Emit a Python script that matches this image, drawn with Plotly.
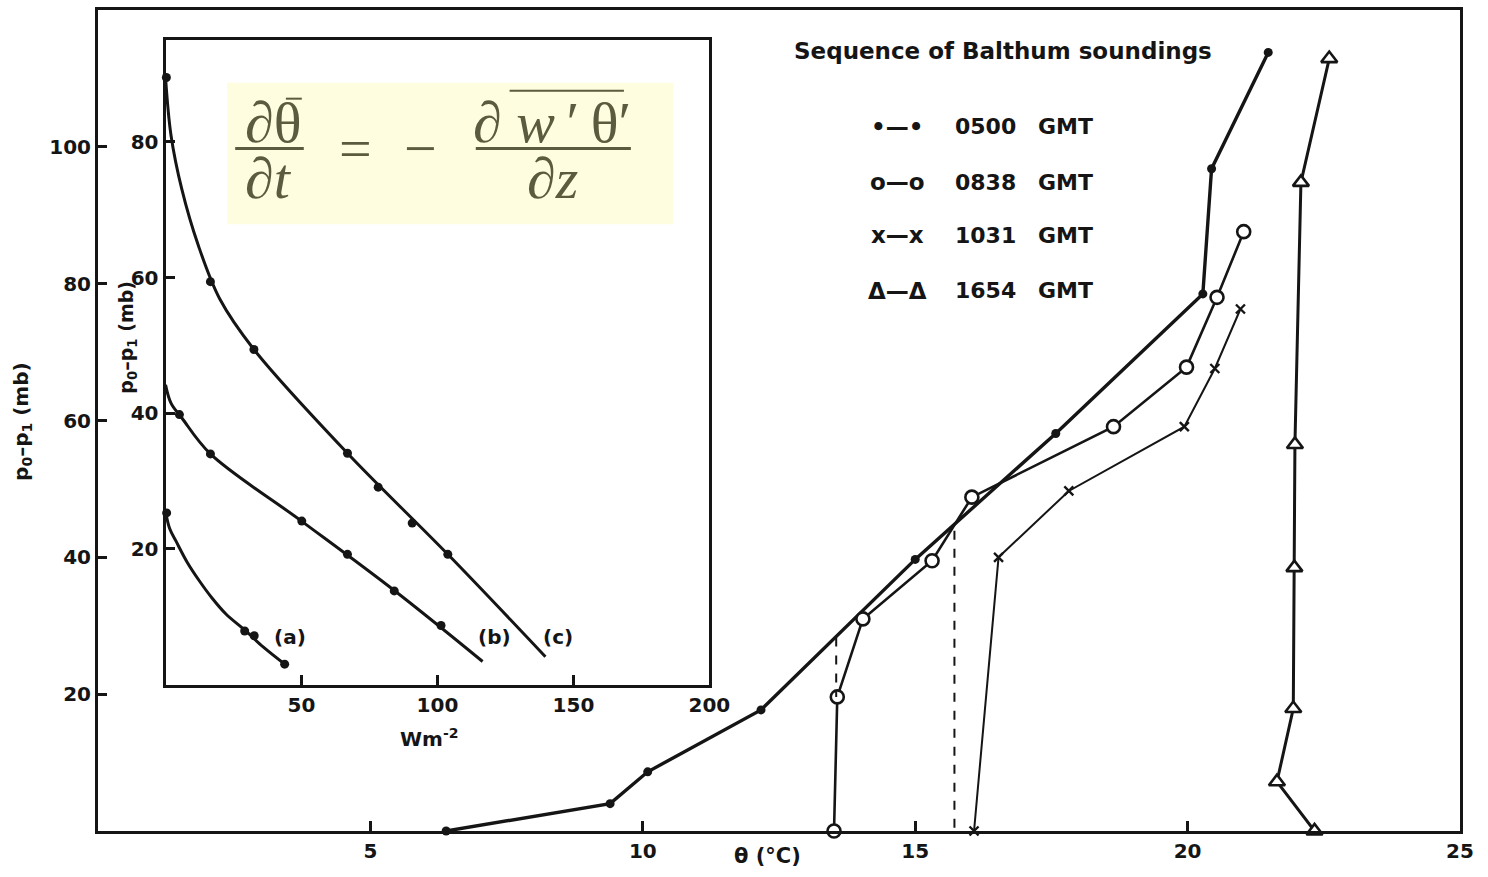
import plotly.graph_objects as go

# ---------------- main plot data: theta (deg C) vs p0-p1 (mb) ----------------
t0500_x = [6.39, 9.40, 10.09, 12.17, 15.00, 17.58, 20.28, 20.44, 21.48]
t0500_y = [0.0, 4.0, 8.65, 17.7, 39.7, 58.1, 78.5, 96.8, 113.8]

t0838_x = [13.51, 13.57, 14.04, 15.31, 16.04, 18.64, 19.98, 20.54, 21.03]
t0838_y = [0.0, 19.6, 31.0, 39.5, 48.8, 59.1, 67.8, 78.0, 87.6]

t1031_x = [16.08, 16.53, 17.82, 19.94, 20.50, 20.97]
t1031_y = [0.0, 40.0, 49.7, 59.1, 67.6, 76.3]

t1654_x = [22.33, 21.64, 21.94, 21.96, 21.97, 22.08, 22.60]
t1654_y = [0.0, 7.2, 17.9, 38.5, 56.5, 94.8, 112.9]

dash1_x = [13.55, 13.55]
dash1_y = [28.3, 19.6]
dash2_x = [15.72, 15.72]
dash2_y = [43.9, 0.0]

main_xticks = [5, 10, 15, 20, 25]
main_yticks = [20, 40, 60, 80, 100]

legend_times = ["0500", "0838", "1031", "1654"]
legend_syms = ["\u2022\u2014\u2022", "o\u2014o", "x\u2014x", "\u0394\u2014\u0394"]

# ---------------- inset data: flux (W m-2) vs p0-p1 (mb) ----------------
ca_w = [0.0, 1.5, 3.9, 8.0, 12.4, 17.0, 22.2, 29.5, 36.0, 43.8]
ca_p = [25.5, 23.0, 21.1, 18.0, 15.3, 12.8, 10.4, 7.9, 5.5, 3.0]
da_w = [0.4, 29.1, 32.6, 43.8]
da_p = [25.3, 7.9, 7.2, 3.0]

cb_w = [0.0, 2.0, 6.0, 16.5, 50.0, 84.0, 116.6]
cb_p = [44.2, 41.5, 39.3, 34.0, 24.1, 13.9, 3.4]
db_w = [5.1, 16.5, 50.1, 66.9, 84.1, 101.3]
db_p = [39.8, 34.0, 24.1, 19.2, 13.8, 8.7]

cc_w = [0.0, 2.0, 6.0, 12.0, 20.0, 32.5, 66.9, 103.8, 139.7]
cc_p = [89.5, 81.0, 73.0, 64.8, 56.8, 49.4, 34.1, 19.2, 4.1]
dc_w = [0.3, 16.5, 32.5, 66.9, 78.2, 90.7, 103.8]
dc_p = [89.5, 59.4, 49.4, 34.1, 29.1, 23.8, 19.2]

curve_labels = ["(a)", "(b)", "(c)"]
curve_label_w = [45.7, 121.0, 144.4]
curve_label_p = [7.0, 7.0, 7.0]

inset_xticks = [50, 100, 150, 200]
inset_yticks = [20, 40, 60, 80]

INK = "#151515"
FONT = "DejaVu Sans"
FORMULA_COL = "#5b5b3f"

fig = go.Figure()

# main series
fig.add_trace(go.Scatter(x=t0500_x, y=t0500_y, mode="lines+markers",
                         line=dict(color=INK, width=3.4),
                         marker=dict(symbol="circle", size=9, color=INK),
                         cliponaxis=False, showlegend=False))
fig.add_trace(go.Scatter(x=t0838_x, y=t0838_y, mode="lines+markers",
                         line=dict(color=INK, width=2.6),
                         marker=dict(symbol="circle", size=13, color="white",
                                     line=dict(color=INK, width=2.6)),
                         cliponaxis=False, showlegend=False))
fig.add_trace(go.Scatter(x=t1031_x, y=t1031_y, mode="lines+markers",
                         line=dict(color=INK, width=2.0),
                         marker=dict(symbol="x-thin", size=9,
                                     line=dict(color=INK, width=2.4)),
                         cliponaxis=False, showlegend=False))
fig.add_trace(go.Scatter(x=t1654_x, y=t1654_y, mode="lines+markers",
                         line=dict(color=INK, width=3.0),
                         marker=dict(symbol="triangle-up", size=14, color="white",
                                     line=dict(color=INK, width=2.6)),
                         cliponaxis=False, showlegend=False))
for dx, dy in [(dash1_x, dash1_y), (dash2_x, dash2_y)]:
    fig.add_trace(go.Scatter(x=dx, y=dy, mode="lines",
                             line=dict(color=INK, width=2, dash="dash"),
                             showlegend=False))

# inset curves and dots
for cw, cp in [(ca_w, ca_p), (cb_w, cb_p), (cc_w, cc_p)]:
    fig.add_trace(go.Scatter(x=cw, y=cp, mode="lines", xaxis="x2", yaxis="y2",
                             line=dict(color=INK, width=3, shape="spline", smoothing=1.0),
                             cliponaxis=False, showlegend=False))
for dw, dp in [(da_w, da_p), (db_w, db_p), (dc_w, dc_p)]:
    fig.add_trace(go.Scatter(x=dw, y=dp, mode="markers", xaxis="x2", yaxis="y2",
                             marker=dict(symbol="circle", size=9, color=INK),
                             cliponaxis=False, showlegend=False))

tickfont = dict(family=FONT, size=20, color=INK, weight="bold")

fig.update_layout(
    width=1488, height=877,
    margin=dict(l=98, r=20, t=7, b=46),
    paper_bgcolor="white", plot_bgcolor="white",
    xaxis=dict(range=[0, 25], tickvals=main_xticks, ticks="inside", ticklen=10,
               tickwidth=2.5, tickcolor=INK, showline=True, mirror=True,
               linewidth=3, linecolor=INK, showgrid=False, zeroline=False,
               tickfont=tickfont),
    yaxis=dict(range=[0, 120], tickvals=main_yticks, ticks="inside", ticklen=9,
               tickwidth=2.5, tickcolor=INK, showline=True, mirror=True,
               linewidth=3, linecolor=INK, showgrid=False, zeroline=False,
               tickfont=tickfont),
    xaxis2=dict(domain=[0.0496, 0.4489], anchor="y2", range=[0, 200],
                tickvals=inset_xticks, ticks="inside", ticklen=10, tickwidth=2.5,
                tickcolor=INK, showline=True, mirror=True, linewidth=3,
                linecolor=INK, showgrid=False, zeroline=False, tickfont=tickfont),
    yaxis2=dict(domain=[0.1784, 0.9632], anchor="x2", range=[0, 95],
                tickvals=inset_yticks, ticks="inside", ticklen=9, tickwidth=2.5,
                tickcolor=INK, showline=True, mirror=True, linewidth=3,
                linecolor=INK, showgrid=False, zeroline=False, tickfont=tickfont),
)


def px(xp):
    return (xp - 98) / 1370.0


def py(yp):
    return (831 - yp) / 824.0


annots = []
bold = dict(family=FONT, color=INK, weight="bold")


def ann(text, x, y, size, xref="paper", yref="paper", xanchor="center",
        angle=0, font=None):
    f = font if font is not None else dict(size=size, **bold)
    annots.append(dict(text=text, x=x, y=y, xref=xref, yref=yref,
                       xanchor=xanchor, yanchor="middle", textangle=angle,
                       showarrow=False, font=f))


# axis titles
ann("\u03b8 (\u00b0C)", px(771), py(856), 21)
ann("p<sub>0</sub>\u2013p<sub>1</sub> (mb)", px(22), py(420), 20, angle=-90)
ann("p<sub>0</sub>\u2013p<sub>1</sub> (mb)", px(128), py(335), 19, angle=-90)
ann("Wm<sup>-2</sup>", px(431), py(738), 20)

# curve labels in inset
for lab, lw, lp in zip(curve_labels, curve_label_w, curve_label_p):
    ann(lab, lw, lp, 20, xref="x2", yref="y2")

# legend block
ann("Sequence of Balthum soundings", px(1008), py(48), 23)
leg_y = [124, 180, 233, 289]
for sym, tm, ly in zip(legend_syms, legend_times, leg_y):
    ann(sym, px(902), py(ly), 23)
    ann(tm, px(958), py(ly), 22, xanchor="left")
    ann("GMT", px(1042), py(ly), 22, xanchor="left")

# formula
ffont = dict(family="Liberation Serif", size=58, color=FORMULA_COL)
ann("\u2202\u03b8", px(274), py(120), 0, font=ffont)
ann("\u2202<i>t</i>", px(270), py(176), 0, font=ffont)
ann("=", px(357), py(146), 0, font=ffont)
ann("\u2212", px(422), py(146), 0, font=ffont)
ann("\u2202 <i>w</i>\u2009\u2032\u2009\u03b8\u2032", px(555), py(120), 0, font=ffont)
ann("\u2202<i>z</i>", px(555), py(176), 0, font=ffont)

shapes = [
    dict(type="rect", xref="paper", yref="paper", x0=px(228), x1=px(677),
         y0=py(222), y1=py(80), fillcolor="#fefde0", line=dict(width=0), layer="above"),
    dict(type="line", xref="paper", yref="paper", x0=px(236), x1=px(305),
         y0=py(146), y1=py(146), line=dict(color=FORMULA_COL, width=3), layer="above"),
    dict(type="line", xref="paper", yref="paper", x0=px(478), x1=px(634),
         y0=py(146), y1=py(146), line=dict(color=FORMULA_COL, width=3), layer="above"),
    dict(type="line", xref="paper", yref="paper", x0=px(287), x1=px(303),
         y0=py(96), y1=py(96), line=dict(color=FORMULA_COL, width=2), layer="above"),
    dict(type="line", xref="paper", yref="paper", x0=px(512), x1=px(627),
         y0=py(88), y1=py(88), line=dict(color=FORMULA_COL, width=2), layer="above"),
]

fig.update_layout(annotations=annots, shapes=shapes)
fig.write_html("out.html")
